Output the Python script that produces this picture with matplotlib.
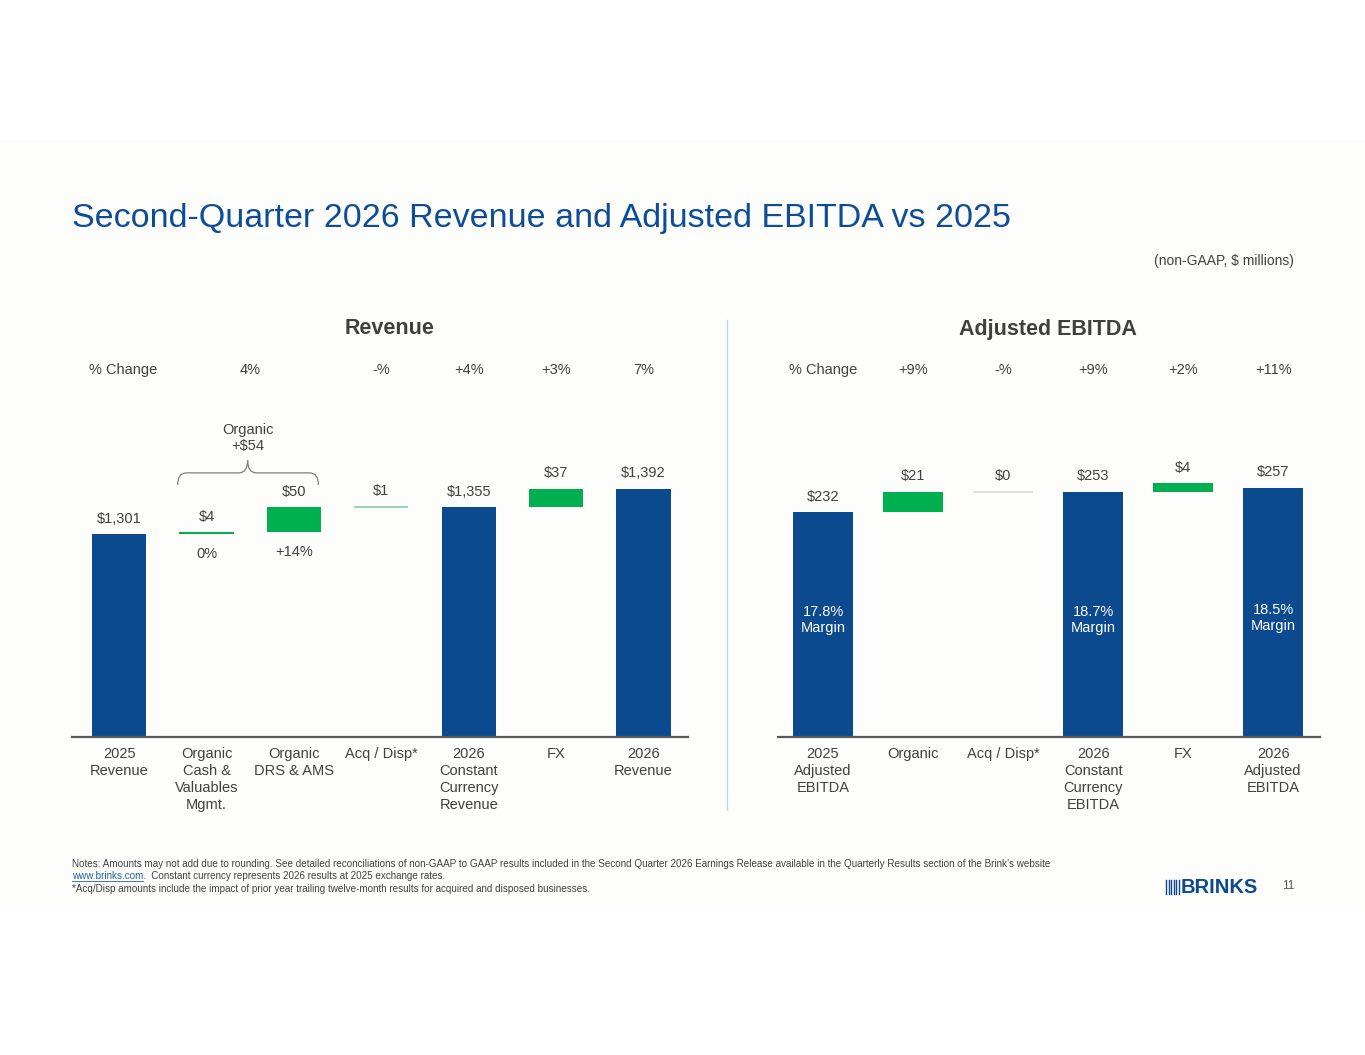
import numpy as np
import matplotlib
matplotlib.use('Agg')
import matplotlib.pyplot as plt
from matplotlib.path import Path
from matplotlib.patches import PathPatch, Rectangle
import matplotlib.transforms as mtransforms

plt.rcParams['font.family'] = ['Liberation Sans', 'DejaVu Sans']

# ---- data ----
rev_labels = ['2025\nRevenue', 'Organic\nCash &\nValuables\nMgmt.', 'Organic\nDRS & AMS',
              'Acq / Disp*', '2026\nConstant\nCurrency\nRevenue', 'FX', '2026\nRevenue']
rev_values = [1301, 4, 50, 1, 1355, 37, 1392]
rev_kinds = ['total', 'delta', 'delta', 'delta', 'total', 'delta', 'total']
rev_pct_text = ['% Change', '4%', '-%', '+4%', '+3%', '7%']
rev_pct_pos = [0, 1.5, 3, 4, 5, 6]
rev_sub_pct = {1: '0%', 2: '+14%'}
organic_idx = [1, 2]

ebitda_labels = ['2025\nAdjusted\nEBITDA', 'Organic', 'Acq / Disp*',
                 '2026\nConstant\nCurrency\nEBITDA', 'FX', '2026\nAdjusted\nEBITDA']
ebitda_values = [232, 21, 0, 253, 4, 257]
ebitda_kinds = ['total', 'delta', 'delta', 'total', 'delta', 'total']
ebitda_pct_text = ['% Change', '+9%', '-%', '+9%', '+2%', '+11%']
ebitda_pct_pos = [0, 1, 2, 3, 4, 5]
ebitda_margins = {0: '17.8%', 3: '18.7%', 5: '18.5%'}

BLUE = '#0c4a8f'
GREEN = '#00b050'
GREY = '#404040'
TITLE_BLUE = '#0f4c97'

W, H = 1365, 1055
fig = plt.figure(figsize=(W / 100, H / 100), dpi=100)
fig.patch.set_facecolor('white')
fig.patches.append(Rectangle((0, 1 - 905 / H), 1, (905 - 140) / H, transform=fig.transFigure,
                             facecolor='#fdfefc', edgecolor='none', zorder=-10))


def px_axes(x0, x1, y_top, y_bot):
    return fig.add_axes([x0 / W, 1 - y_bot / H, (x1 - x0) / W, (y_bot - y_top) / H])


def waterfall(ax, values, kinds, width, base, thin_color, min_h=0):
    tops, bottoms = [], []
    running = base
    for i, (v, k) in enumerate(zip(values, kinds)):
        if k == 'total':
            ax.bar(i, v - base, bottom=base, width=width, color=BLUE, zorder=2)
            running = v
            tops.append(v)
            bottoms.append(base)
        else:
            if abs(v) <= 1:
                ax.hlines(running + v, i - width / 2, i + width / 2, color=thin_color, lw=1.2, zorder=2)
                shown = v
            else:
                shown = max(v, min_h)
                ax.bar(i, shown, bottom=running, width=width, color=GREEN, zorder=2)
            bottoms.append(running)
            tops.append(running + shown)
            running = running + v
        ax.annotate(f'${v:,}', (i, tops[-1]), xytext=(0, 6), textcoords='offset points',
                    ha='center', va='bottom', fontsize=10.5, color=GREY)
    return tops, bottoms


def style(ax, labels):
    ax.set_facecolor('none')
    for s in ['top', 'right', 'left']:
        ax.spines[s].set_visible(False)
    ax.spines['bottom'].set_color('#595959')
    ax.spines['bottom'].set_linewidth(1.6)
    ax.set_yticks([])
    ax.set_xticks(range(len(labels)))
    ax.set_xticklabels(labels, fontsize=10.5, color=GREY, linespacing=1.28)
    ax.tick_params(axis='x', length=0, pad=7)


# ---- revenue ----
ax1 = px_axes(72, 688, 400, 737)
rev_base = 900
rev_tops, rev_bots = waterfall(ax1, rev_values, rev_kinds, 0.62, rev_base, '#7fd0a6')
ax1.set_xlim(-0.54, 6.51)
ax1.set_ylim(rev_base, rev_base + 337 / 0.505)
style(ax1, rev_labels)

for i, t in rev_sub_pct.items():
    ax1.annotate(t, (i, rev_bots[i]), xytext=(0, -9), textcoords='offset points',
                 ha='center', va='top', fontsize=10.5, color=GREY)

# brace over organic items
bx0 = organic_idx[0] - 0.31 - 0.02
bx1 = organic_idx[-1] + 0.31 - 0.03
bxm = (organic_idx[0] + organic_idx[-1]) / 2 - 0.03
otop = max(rev_tops[i] for i in organic_idx)
yb, yh, yt = otop + 44, otop + 68, otop + 93
r = 0.1
verts = [(bx0, yb), (bx0, yh), (bx0 + r, yh), (bxm - r, yh), (bxm, yh), (bxm, yt),
         (bxm, yh), (bxm + r, yh), (bx1 - r, yh), (bx1, yh), (bx1, yb)]
codes = [Path.MOVETO, Path.CURVE3, Path.CURVE3, Path.LINETO, Path.CURVE3, Path.CURVE3,
         Path.CURVE3, Path.CURVE3, Path.LINETO, Path.CURVE3, Path.CURVE3]
ax1.add_patch(PathPatch(Path(verts, codes), facecolor='none', edgecolor='#7f7f7f', lw=0.9,
                        clip_on=False))
organic_total = sum(rev_values[i] for i in organic_idx)
ax1.annotate(f'Organic\n+${organic_total}', (bxm, yt), xytext=(0, 5), textcoords='offset points',
             ha='center', va='bottom', fontsize=10.5, color=GREY, linespacing=1.2)

tr1 = mtransforms.blended_transform_factory(ax1.transData, fig.transFigure)
for p, t in zip(rev_pct_pos, rev_pct_text):
    ax1.text(p + (0.05 if t == '% Change' else 0), 1 - 370 / H, t, transform=tr1,
             ha='center', va='center', fontsize=10.5, color=GREY)

# ---- adjusted EBITDA ----
ax2 = px_axes(778, 1320, 400, 737)
eb_tops, eb_bots = waterfall(ax2, ebitda_values, ebitda_kinds, 0.66, 0, '#d9d9d9', min_h=9)
ax2.set_xlim(-0.5, 5.52)
ax2.set_ylim(0, 337 / 0.97)
style(ax2, ebitda_labels)

margin_y = ebitda_values[0] * 0.52
for i, m in ebitda_margins.items():
    ax2.text(i, margin_y + (2 if i == 5 else 0), f'{m}\nMargin', ha='center', va='center',
             fontsize=10.5, color='white', linespacing=1.2, zorder=3)

tr2 = mtransforms.blended_transform_factory(ax2.transData, fig.transFigure)
for p, t in zip(ebitda_pct_pos, ebitda_pct_text):
    ax2.text(p, 1 - 370 / H, t, transform=tr2, ha='center', va='center', fontsize=10.5, color=GREY)

# ---- titles and decorations ----
fig.text(72 / W, 1 - 218 / H, 'Second-Quarter 2026 Revenue and Adjusted EBITDA vs 2025',
         fontsize=24.5, color=TITLE_BLUE, ha='left', va='center')
fig.text(1294 / W, 1 - 261 / H, '(non-GAAP, $ millions)', fontsize=10, color=GREY,
         ha='right', va='center')
fig.text(390 / W, 1 - 329 / H, 'Revenue', fontsize=15.5, fontweight='bold', color=GREY,
         ha='center', va='center')
fig.text(1048 / W, 1 - 329 / H, 'Adjusted EBITDA', fontsize=15.5, fontweight='bold', color=GREY,
         ha='center', va='center')
fig.add_artist(plt.Line2D([727 / W, 727 / W], [1 - 320 / H, 1 - 810 / H],
                          color='#bcd4ec', lw=1.0))

# ---- footer ----
note_fs = 7.1
fig.text(72 / W, 1 - 864 / H,
         'Notes: Amounts may not add due to rounding. See detailed reconciliations of non-GAAP to GAAP '
         'results included in the Second Quarter 2026 Earnings Release available in the Quarterly '
         'Results section of the Brink\u2019s website',
         fontsize=note_fs, color=GREY, ha='left', va='center')
link = fig.text(72 / W, 1 - 876 / H, 'www.brinks.com', fontsize=note_fs, color='#1f5fa8',
                ha='left', va='center')
renderer = fig.canvas.get_renderer()
bb = link.get_window_extent(renderer)
fig.add_artist(plt.Line2D([bb.x0 / W, bb.x1 / W], [bb.y0 / H, bb.y0 / H], color='#1f5fa8', lw=0.6))
fig.text(bb.x1 / W, 1 - 876 / H, '.  Constant currency represents 2026 results at 2025 exchange rates.',
         fontsize=note_fs, color=GREY, ha='left', va='center')
fig.text(72 / W, 1 - 889 / H,
         '*Acq/Disp amounts include the impact of prior year trailing twelve-month results for '
         'acquired and disposed businesses.',
         fontsize=note_fs, color=GREY, ha='left', va='center')

# logo
for k in range(6):
    xs = (1166 + k * 2.5) / W
    fig.add_artist(plt.Line2D([xs, xs], [1 - 880 / H, 1 - 894 / H], color=BLUE, lw=1.0))
fig.text(1181 / W, 1 - 887.5 / H, 'BRINKS', fontsize=14.5, fontweight='bold', color=BLUE,
         ha='left', va='center')
fig.text(1288 / W, 1 - 886 / H, '11', fontsize=8.5, color='#595959', ha='center', va='center')

fig.savefig('out.png', dpi=100, facecolor=fig.get_facecolor())
